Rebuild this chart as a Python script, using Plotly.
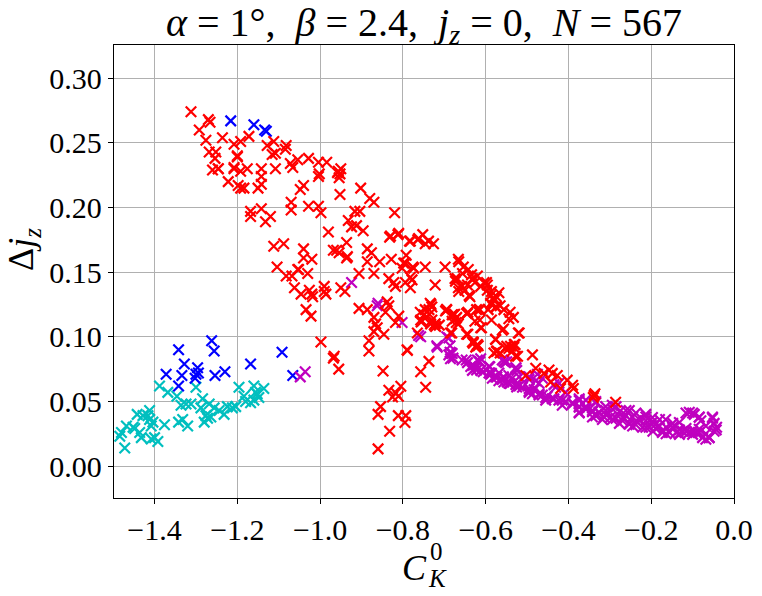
import plotly.graph_objects as go

# red points
red_x = [-1.312, -1.270, -1.266, -1.292, -1.276, -1.236, -1.208, -1.192, -1.172, -1.128, -1.112, -1.082,
         -1.084, -1.116, -1.108, -1.268, -1.252, -1.254, -1.200, -1.246, -1.208, -1.192, -1.176, -1.142,
         -1.142, -1.108, -1.072, -1.066, -1.054, -1.028, -1.004, -0.984, -0.956, -0.952, -0.958, -0.950,
         -1.004, -1.002, -0.954, -1.222, -1.198, -1.184, -1.150, -1.142, -1.048, -1.040, -0.952, -0.902,
         -0.880, -0.870, -1.070, -1.070, -1.028, -1.004, -0.998, -1.168, -1.168, -1.142, -1.132, -1.120,
         -0.820, -0.980, -0.932, -0.924, -0.912, -0.896, -0.916, -0.904, -0.936, -0.960, -0.968, -0.936,
         -0.886, -0.876, -0.886, -0.856, -0.828, -0.832, -0.812, -0.792, -0.784, -0.764, -0.752, -1.112,
         -1.088, -1.040, -1.040, -1.020, -1.104, -1.054, -0.798, -0.776, -1.260, -1.246, -1.200, -1.208,
         -1.192,
         -0.830, -0.810, -0.782, -0.762, -0.738, -0.726, -0.746, -0.954, -0.934, -0.794, -0.774, -0.802,
         -0.746, -0.698, -0.666, -0.654, -0.642, -0.634, -1.082, -1.068, -1.052, -1.030, -1.062, -1.046,
         -1.026, -1.020, -1.018, -0.990, -0.990, -0.986, -0.950, -0.940, -0.906, -0.870, -0.834, -0.822,
         -0.818, -0.782, -0.782, -0.794, -0.778, -0.722, -0.674, -0.666, -0.650, -0.638, -0.658, -0.626,
         -0.598, -0.586, -0.582, -0.574, -1.034, -1.022, -0.906, -0.886, -0.838, -0.834, -0.842, -0.870,
         -0.866, -0.862, -0.870, -0.846, -0.818, -0.810, -0.758, -0.746, -0.734, -0.730, -0.722, -0.754,
         -0.730, -0.694, -0.678, -0.670, -0.646, -0.666, -0.622, -0.614, -0.594, -0.586, -0.578, -0.574,
         -0.646, -0.630, -0.622, -0.998, -0.966, -0.882, -0.882, -0.790,
         -0.665, -0.656, -0.669, -0.673, -0.644, -0.632, -0.620, -0.665, -0.640, -0.612, -0.604, -0.596,
         -0.596, -0.588, -0.580, -0.588, -0.576, -0.568, -0.556, -0.544, -0.737, -0.749, -0.757, -0.733,
         -0.721, -0.697, -0.681, -0.673, -0.681, -0.644, -0.616, -0.612, -0.685, -0.632, -0.624, -0.620,
         -0.576, -0.572, -0.544, -0.532, -0.528, -0.560, -0.519, -0.487, -0.737, -0.757, -0.745,
         -0.968, -0.955, -0.848, -0.834, -0.825, -0.811, -0.805, -0.817, -0.854, -0.860, -0.811, -0.793,
         -0.795, -0.832, -0.860, -0.789,
         -0.765, -0.756, -0.736, -0.732, -0.724, -0.712, -0.695, -0.675, -0.671, -0.643, -0.626, -0.614,
         -0.610, -0.682, -0.643, -0.630, -0.618, -0.586, -0.565, -0.541, -0.533, -0.557, -0.574, -0.565,
         -0.549, -0.529, -0.521,
         -0.576, -0.580, -0.552, -0.540, -0.536, -0.531, -0.523, -0.503, -0.479, -0.459, -0.447, -0.439,
         -0.427, -0.443, -0.419, -0.403, -0.390, -0.388, -0.338, -0.336, -0.340, -0.286]
red_y = [0.274, 0.268, 0.266, 0.260, 0.252, 0.254, 0.249, 0.251, 0.255, 0.248, 0.251, 0.248,
         0.245, 0.241, 0.242, 0.243, 0.243, 0.238, 0.239, 0.230, 0.231, 0.228, 0.230, 0.230,
         0.224, 0.230, 0.234, 0.231, 0.237, 0.238, 0.235, 0.235, 0.228, 0.226, 0.227, 0.230,
         0.224, 0.226, 0.223, 0.220, 0.217, 0.215, 0.215, 0.218, 0.214, 0.217, 0.210, 0.215,
         0.207, 0.204, 0.204, 0.198, 0.201, 0.201, 0.196, 0.197, 0.193, 0.199, 0.189, 0.193,
         0.196, 0.181, 0.190, 0.185, 0.186, 0.182, 0.197, 0.197, 0.173, 0.167, 0.167, 0.161,
         0.168, 0.165, 0.158, 0.158, 0.160, 0.177, 0.179, 0.163, 0.174, 0.175, 0.179, 0.170,
         0.172, 0.168, 0.161, 0.160, 0.154, 0.152, 0.157, 0.154, 0.229, 0.230, 0.240, 0.230,
         0.215,
         0.178, 0.180, 0.174, 0.176, 0.174, 0.172, 0.172, 0.165, 0.162, 0.157, 0.153, 0.153,
         0.154, 0.154, 0.160, 0.154, 0.152, 0.148, 0.147, 0.147, 0.152, 0.149, 0.138, 0.133,
         0.136, 0.133, 0.131, 0.139, 0.135, 0.133, 0.138, 0.135, 0.149, 0.149, 0.145, 0.142,
         0.139, 0.146, 0.138, 0.142, 0.144, 0.140, 0.145, 0.138, 0.136, 0.131, 0.139, 0.142,
         0.142, 0.135, 0.130, 0.131, 0.121, 0.116, 0.122, 0.121, 0.127, 0.124, 0.119, 0.115,
         0.110, 0.107, 0.104, 0.102, 0.111, 0.116, 0.119, 0.121, 0.126, 0.113, 0.110, 0.112,
         0.123, 0.121, 0.117, 0.115, 0.118, 0.110, 0.121, 0.113, 0.121, 0.113, 0.129, 0.123,
         0.102, 0.096, 0.093, 0.096, 0.085, 0.097, 0.089, 0.090,
         0.158, 0.149, 0.145, 0.143, 0.140, 0.145, 0.147, 0.135, 0.132, 0.139, 0.142, 0.140,
         0.136, 0.132, 0.128, 0.126, 0.123, 0.134, 0.121, 0.114, 0.121, 0.117, 0.113, 0.110,
         0.108, 0.120, 0.117, 0.114, 0.112, 0.118, 0.121, 0.107, 0.103, 0.096, 0.092, 0.094,
         0.098, 0.089, 0.091, 0.092, 0.085, 0.105, 0.103, 0.086, 0.081, 0.073, 0.061,
         0.0835, 0.075, 0.0735, 0.0586, 0.0534, 0.054, 0.0618, 0.0565, 0.046, 0.040, 0.039, 0.039,
         0.0337, 0.027, 0.0133, 0.0895,
         0.103, 0.1115, 0.1175, 0.125, 0.109, 0.109, 0.121, 0.1175, 0.111, 0.119, 0.112, 0.121,
         0.107, 0.103, 0.102, 0.095, 0.093, 0.125, 0.124, 0.119, 0.115, 0.106, 0.0887, 0.0874,
         0.0927, 0.094, 0.103,
         0.098, 0.0874, 0.091, 0.0927, 0.0887, 0.094, 0.085, 0.070, 0.0756, 0.0717, 0.0743, 0.0717,
         0.070, 0.065, 0.060, 0.0665, 0.0625, 0.060, 0.0547, 0.056, 0.053, 0.0494]

# blue points
blue_x = [-1.216, -1.160, -1.134, -1.130, -1.342, -1.372, -1.328, -1.334, -1.342, -1.296, -1.300,
          -1.302, -1.294, -1.262, -1.256, -1.254, -1.230, -1.168, -1.092, -1.066]
blue_y = [0.267, 0.264, 0.260, 0.259, 0.090, 0.071, 0.079, 0.070, 0.062, 0.076, 0.071,
          0.068, 0.072, 0.097, 0.089, 0.070, 0.073, 0.079, 0.088, 0.070]

# cyan points
cyan_x = [-1.388, -1.368, -1.346, -1.336, -1.324, -1.312, -1.300, -1.284, -1.288, -1.268, -1.256,
          -1.244, -1.232, -1.276, -1.272, -1.280, -1.264, -1.224, -1.212, -1.204, -1.196, -1.184,
          -1.180, -1.168, -1.160, -1.160, -1.152, -1.136, -1.148, -1.156, -1.342, -1.332, -1.320,
          -1.376, -1.442, -1.428, -1.448, -1.436, -1.432, -1.468, -1.472, -1.484, -1.480, -1.416,
          -1.412, -1.408, -1.404, -1.412, -1.400, -1.392, -1.408, -1.452]
cyan_y = [0.062, 0.057, 0.054, 0.047, 0.048, 0.048, 0.061, 0.052, 0.045, 0.048, 0.045,
          0.043, 0.040, 0.039, 0.037, 0.034, 0.038, 0.046, 0.045, 0.046, 0.061, 0.054,
          0.050, 0.049, 0.051, 0.062, 0.056, 0.060, 0.053, 0.057, 0.034, 0.036, 0.031,
          0.032, 0.040, 0.039, 0.029, 0.026, 0.022, 0.031, 0.014, 0.023, 0.026, 0.039,
          0.036, 0.031, 0.034, 0.043, 0.022, 0.019, 0.021, 0.030]

# magenta points
mag_x = [-1.048, -1.036, -0.924, -0.862, -0.860, -0.802, -0.762, -0.718, -0.694, -0.686, -0.686,
         -0.757, -0.717, -0.689, -0.683, -0.679, -0.647, -0.630, -0.614, -0.622, -0.606, -0.586,
         -0.573, -0.557, -0.541, -0.525, -0.549, -0.525, -0.590,
         -0.689, -0.685, -0.681, -0.657, -0.644, -0.636, -0.632, -0.620, -0.612, -0.624, -0.592,
         -0.588, -0.576, -0.568, -0.560, -0.548, -0.556, -0.527, -0.523, -0.519, -0.495, -0.483,
         -0.471, -0.463, -0.451, -0.439, -0.423, -0.406, -0.495, -0.475, -0.463, -0.423, -0.435,
         -0.390, -0.374, -0.358, -0.342, -0.326, -0.314, -0.298, -0.285, -0.269, -0.253, -0.237,
         -0.221, -0.205, -0.189, -0.173, -0.156, -0.140, -0.124, -0.108, -0.092, -0.076, -0.060,
         -0.374, -0.358, -0.334, -0.310, -0.285, -0.261, -0.237, -0.213, -0.180, -0.148, -0.116,
         -0.100, -0.084, -0.052, -0.048, -0.043, -0.068,
         -0.374, -0.342, -0.318, -0.277, -0.245, -0.196, -0.164, -0.132,
         -0.616, -0.612, -0.592, -0.584, -0.568, -0.556, -0.544, -0.527, -0.511, -0.495, -0.487,
         -0.471, -0.455, -0.435, -0.415, -0.560, -0.552, -0.527, -0.495, -0.479,
         -0.390, -0.374, -0.358, -0.342, -0.326, -0.310, -0.293, -0.277, -0.261, -0.245, -0.229,
         -0.213, -0.197, -0.180, -0.164, -0.148, -0.132, -0.116, -0.100, -0.084, -0.068,
         -0.108, -0.096, -0.084, -0.080, -0.052, -0.042, -0.048, -0.060, -0.068,
         -0.495, -0.455, -0.415, -0.374, -0.334, -0.294, -0.253, -0.213, -0.173, -0.132, -0.100,
         -0.374, -0.334, -0.294, -0.253, -0.213, -0.197, -0.165, -0.132, -0.431, -0.471, -0.407,
         -0.519, -0.544, -0.536, -0.358, -0.310, -0.269, -0.237, -0.189, -0.148, -0.116, -0.084]
mag_y = [0.069, 0.073, 0.142, 0.124, 0.126, 0.111, 0.101, 0.093, 0.100, 0.093, 0.088,
         0.100, 0.092, 0.099, 0.0874, 0.0835, 0.082, 0.078, 0.0807, 0.0743, 0.073, 0.0717,
         0.069, 0.069, 0.0638, 0.0612, 0.0807, 0.074, 0.0768,
         0.086, 0.083, 0.087, 0.082, 0.080, 0.077, 0.074, 0.082, 0.083, 0.076, 0.077,
         0.071, 0.069, 0.072, 0.067, 0.065, 0.081, 0.076, 0.064, 0.062, 0.058, 0.059,
         0.056, 0.055, 0.054, 0.052, 0.051, 0.050, 0.067, 0.071, 0.068, 0.064, 0.063,
         0.049, 0.046, 0.045, 0.042, 0.041, 0.038, 0.038, 0.037, 0.035, 0.033, 0.032,
         0.030, 0.030, 0.029, 0.027, 0.026, 0.026, 0.027, 0.026, 0.026, 0.022, 0.022,
         0.052, 0.051, 0.050, 0.046, 0.046, 0.043, 0.041, 0.038, 0.036, 0.033, 0.041,
         0.041, 0.038, 0.038, 0.033, 0.028, 0.031,
         0.041, 0.038, 0.036, 0.033, 0.031, 0.027, 0.025, 0.025,
         0.081, 0.074, 0.072, 0.068, 0.066, 0.065, 0.064, 0.063, 0.061, 0.060, 0.056,
         0.055, 0.053, 0.052, 0.051, 0.082, 0.080, 0.076, 0.069, 0.066,
         0.048, 0.0455, 0.044, 0.043, 0.0416, 0.043, 0.044, 0.042, 0.039, 0.038, 0.036,
         0.035, 0.034, 0.031, 0.030, 0.030, 0.028, 0.027, 0.027, 0.026, 0.025,
         0.0416, 0.040, 0.0377, 0.035, 0.037, 0.030, 0.027, 0.022, 0.0207,
         0.057, 0.051, 0.047, 0.0416, 0.039, 0.036, 0.0324, 0.030, 0.026, 0.0245, 0.0245,
         0.0507, 0.049, 0.047, 0.043, 0.040, 0.0376, 0.036, 0.0337, 0.061, 0.064, 0.057,
         0.069, 0.070, 0.068, 0.046, 0.040, 0.0376, 0.035, 0.0324, 0.030, 0.029, 0.0285]

FONT = "Liberation Serif"
W, H = 762, 596
L, R, T, B = 114, 27.5, 45, 97.7


def xs(col):
    return dict(symbol="x-thin", size=10.5, line=dict(width=2.2, color=col), color=col)


def px_x(p):
    return (p - L) / (W - L - R)


def px_y(p):
    return (H - B - p) / (H - T - B)


fig = go.Figure()
fig.add_trace(go.Scatter(x=cyan_x, y=cyan_y, mode="markers", marker=xs("#00bfbf")))
fig.add_trace(go.Scatter(x=blue_x, y=blue_y, mode="markers", marker=xs("#0000ff")))
fig.add_trace(go.Scatter(x=mag_x, y=mag_y, mode="markers", marker=xs("#bf00bf")))
fig.add_trace(go.Scatter(x=red_x, y=red_y, mode="markers", marker=xs("#ff0000")))

axis_common = dict(
    showline=True, linecolor="black", linewidth=1.3, mirror=True,
    showgrid=True, gridcolor="#b0b0b0", gridwidth=1,
    ticks="outside", ticklen=5, tickcolor="black", tickwidth=1.2,
    zeroline=False, automargin=False,
    tickfont=dict(family=FONT, size=30, color="black"),
)

fig.update_layout(
    width=W, height=H,
    margin=dict(l=L, r=R, t=T, b=B, autoexpand=False),
    paper_bgcolor="white", plot_bgcolor="white",
    showlegend=False,
    font=dict(family=FONT, color="black"),
    title=dict(
        text="<i>α</i> = 1°,  <i>β</i> = 2.4,  <i>j<sub>z</sub></i> = 0,  <i>N</i> = 567",
        x=0.5, xref="paper", xanchor="center",
        y=1 - 22 / H, yref="container", yanchor="middle",
        font=dict(family=FONT, size=40, color="black"),
    ),
    xaxis=dict(axis_common, range=[-1.498, 0.0], tick0=0, dtick=0.2, tickformat=".1f"),
    yaxis=dict(axis_common, range=[-0.0247, 0.3257], tick0=0, dtick=0.05, tickformat=".2f"),
)

# axis labels
anns = [
    dict(text="<i>C</i>", x=px_x(415), y=px_y(568), size=36),
    dict(text="0", x=px_x(437), y=px_y(552), size=25),
    dict(text="<i>K</i>", x=px_x(438), y=px_y(579), size=25),
]
for a in anns:
    fig.add_annotation(text=a["text"], x=a["x"], y=a["y"], xref="paper", yref="paper",
                       xanchor="center", yanchor="middle", showarrow=False,
                       font=dict(family=FONT, size=a["size"], color="black"))
fig.add_annotation(text="Δ<i>j<sub>z</sub></i>", x=px_x(24), y=px_y(250), xref="paper", yref="paper",
                   xanchor="center", yanchor="middle", showarrow=False, textangle=-90,
                   font=dict(family=FONT, size=36, color="black"))

fig.write_html("out.html", config={"displayModeBar": False},
               post_script="document.body.style.margin='0px';")
